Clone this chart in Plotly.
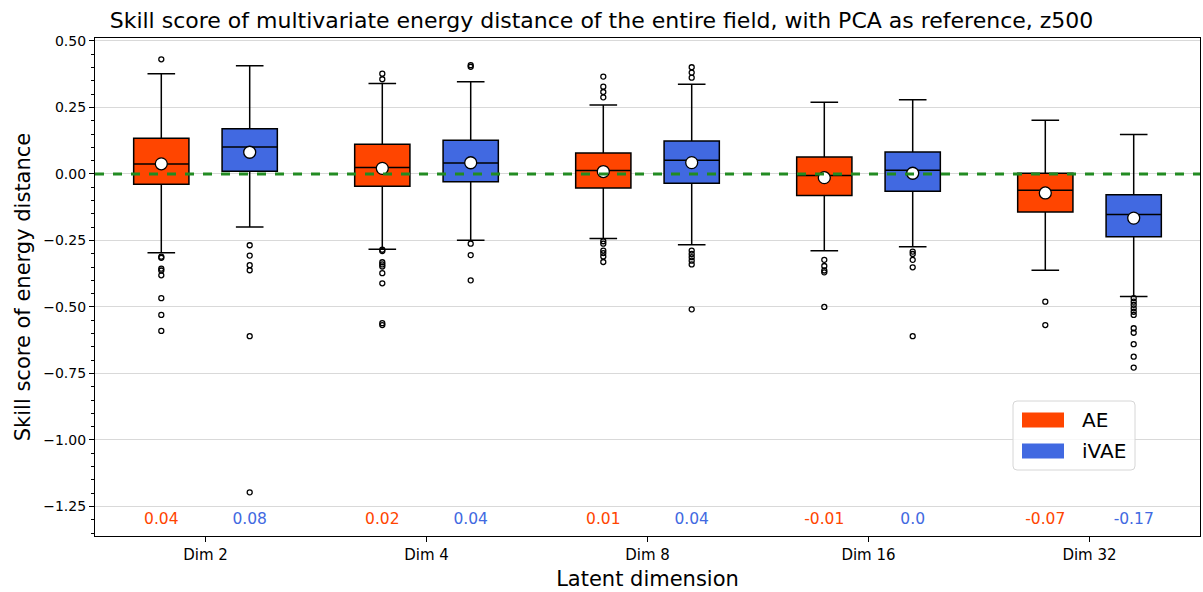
import plotly.graph_objects as go

categories = ["Dim 2", "Dim 4", "Dim 8", "Dim 16", "Dim 32"]
series_names = ["AE", "iVAE"]

ae_q1 = [-0.039, -0.046, -0.053, -0.0815, -0.143]
ae_median = [0.0376, 0.024, 0.0125, -0.006, -0.0614]
ae_q3 = [0.134, 0.1115, 0.079, 0.064, 0.0025]
ae_low = [-0.296, -0.283, -0.243, -0.289, -0.362]
ae_high = [0.377, 0.340, 0.259, 0.2695, 0.2017]
ae_mean = [0.038, 0.021, 0.009, -0.014, -0.0714]
ae_outliers = [
    [0.431, -0.311, -0.315, -0.356, -0.363, -0.381, -0.467, -0.530, -0.590],
    [0.377, 0.356, -0.285, -0.290, -0.332, -0.340, -0.348, -0.373, -0.411, -0.561, -0.568],
    [0.366, 0.328, 0.308, 0.288, -0.253, -0.262, -0.288, -0.298, -0.310, -0.331],
    [-0.323, -0.346, -0.363, -0.370, -0.500],
    [-0.480, -0.568],
]

ivae_q1 = [0.010, -0.029, -0.035, -0.065, -0.236]
ivae_median = [0.1015, 0.041, 0.0514, 0.0138, -0.152]
ivae_q3 = [0.170, 0.1265, 0.124, 0.0827, -0.078]
ivae_low = [-0.199, -0.249, -0.266, -0.274, -0.461]
ivae_high = [0.407, 0.347, 0.337, 0.279, 0.148]
ivae_mean = [0.0815, 0.042, 0.0426, 0.0025, -0.166]
ivae_outliers = [
    [-0.268, -0.307, -0.343, -0.362, -0.610, -1.197],
    [0.409, 0.403, -0.262, -0.305, -0.400],
    [0.401, 0.381, 0.362, -0.288, -0.301, -0.313, -0.326, -0.340, -0.509],
    [-0.292, -0.301, -0.323, -0.351, -0.610],
    [-0.467, -0.480, -0.492, -0.505, -0.518, -0.530, -0.580, -0.597, -0.640, -0.687, -0.728],
]

colors = {"AE": "#FF4500", "iVAE": "#4169E1"}
offsets = {"AE": -0.2, "iVAE": 0.2}
stats = {
    "AE": (ae_q1, ae_median, ae_q3, ae_low, ae_high, ae_mean, ae_outliers),
    "iVAE": (ivae_q1, ivae_median, ivae_q3, ivae_low, ivae_high, ivae_mean, ivae_outliers),
}

W, H = 1203, 592
ML, MR, MT, MB = 95, 3, 38, 56
PW, PH = W - ML - MR, H - MT - MB

def px2paper(xp, yp):
    return (xp - ML) / PW, (H - MB - yp) / PH

fig = go.Figure()
FONT = "DejaVu Sans, Arial, sans-serif"

for name in series_names:
    q1, med, q3, lo, hi, mean, outl = stats[name]
    xs = [i + offsets[name] for i in range(len(categories))]
    fig.add_trace(go.Box(
        x=xs, q1=q1, median=med, q3=q3, lowerfence=lo, upperfence=hi,
        width=0.25, whiskerwidth=0.5, boxpoints=False,
        fillcolor=colors[name], line=dict(color="black", width=1.5),
        name=name, showlegend=False, hoverinfo="skip",
    ))
    ox, oy = [], []
    for i, vals in enumerate(outl):
        ox += [xs[i]] * len(vals)
        oy += vals
    fig.add_trace(go.Scatter(
        x=ox, y=oy, mode="markers", showlegend=False, hoverinfo="skip",
        marker=dict(symbol="circle-open", size=5, color="black", line=dict(width=1.3, color="black")),
    ))
    fig.add_trace(go.Scatter(
        x=xs, y=mean, mode="markers", showlegend=False, hoverinfo="skip",
        marker=dict(symbol="circle", size=12, color="white", line=dict(width=1.3, color="black")),
    ))
    fig.add_trace(go.Scatter(
        x=xs, y=[-1.3] * len(xs), mode="text", showlegend=False, hoverinfo="skip",
        text=[str(round(m, 2)) for m in mean],
        textfont=dict(color=colors[name], size=15.5, family=FONT),
        textposition="middle center",
    ))

fig.add_shape(type="line", xref="paper", x0=0, x1=1, yref="y", y0=0, y1=0,
              line=dict(color="#228B22", width=3, dash="dash"), layer="above")

# manual legend (matplotlib style)
lx0, ly0 = px2paper(1013, 401)
lx1, ly1 = px2paper(1135, 470)
rx, ry = 4 / PW, 4 / PH
path = (f"M {lx0+rx},{ly0} L {lx1-rx},{ly0} Q {lx1},{ly0} {lx1},{ly0-ry} "
        f"L {lx1},{ly1+ry} Q {lx1},{ly1} {lx1-rx},{ly1} L {lx0+rx},{ly1} "
        f"Q {lx0},{ly1} {lx0},{ly1+ry} L {lx0},{ly0-ry} Q {lx0},{ly0} {lx0+rx},{ly0} Z")
fig.add_shape(type="path", xref="paper", yref="paper", path=path,
              fillcolor="rgba(255,255,255,0.8)", line=dict(color="#d6d6d6", width=1), layer="above")
for k, name in enumerate(series_names):
    yc = 420 + k * 31
    ax0, ay0 = px2paper(1022, yc - 7.5)
    ax1, ay1 = px2paper(1064, yc + 7.5)
    fig.add_shape(type="rect", xref="paper", yref="paper", x0=ax0, x1=ax1, y0=ay1, y1=ay0,
                  fillcolor=colors[name], line=dict(width=0), layer="above")
    tx, ty = px2paper(1080, yc)
    fig.add_annotation(x=tx, y=ty, xref="paper", yref="paper", text=name, showarrow=False,
                       xanchor="left", yanchor="middle", font=dict(size=20, family=FONT, color="black"))

fig.update_layout(
    width=W, height=H,
    margin=dict(l=ML, r=MR, t=MT, b=MB),
    paper_bgcolor="white", plot_bgcolor="white",
    font=dict(family=FONT, color="black"),
    title=dict(text="Skill score of multivariate energy distance of the entire field, with PCA as reference, z500",
               x=0.5, xanchor="center", y=0.965, yanchor="middle", font=dict(size=22)),
    showlegend=False,
    boxmode="overlay",
)

fig.update_xaxes(
    range=[-0.5, 4.5], tickmode="array", tickvals=list(range(len(categories))), ticktext=categories,
    showgrid=False, zeroline=False, showline=True, linecolor="black", linewidth=1.2, mirror=True,
    ticks="outside", ticklen=5, tickcolor="black", tickfont=dict(size=15),
    title=dict(text="Latent dimension", font=dict(size=21), standoff=8),
)
fig.update_yaxes(
    range=[-1.361, 0.511], tickmode="array",
    tickvals=[0.5, 0.25, 0.0, -0.25, -0.5, -0.75, -1.0, -1.25],
    ticktext=["0.50", "0.25", "0.00", "\u22120.25", "\u22120.50", "\u22120.75", "\u22121.00", "\u22121.25"],
    showgrid=True, gridcolor="#d9d9d9", gridwidth=1, zeroline=False,
    showline=True, linecolor="black", linewidth=1.2, mirror=True,
    ticks="outside", ticklen=5, tickcolor="black", tickfont=dict(size=14),
    minor=dict(dtick=0.05, tick0=0, ticks="outside", ticklen=3, tickcolor="black", showgrid=False),
    title=dict(text="Skill score of energy distance", font=dict(size=21), standoff=6),
)

fig.write_html("out.html")
